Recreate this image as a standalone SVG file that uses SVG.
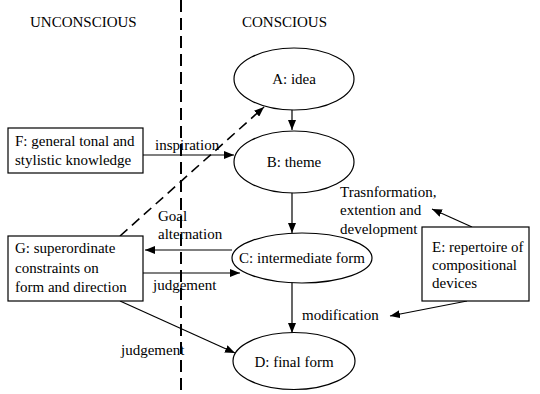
<svg xmlns="http://www.w3.org/2000/svg" width="540" height="394" viewBox="0 0 540 394" font-family="'Liberation Serif', 'DejaVu Serif', serif" font-size="15">
  <defs>
    <marker id="arrow" viewBox="0 0 10 8" refX="10" refY="4" markerWidth="10" markerHeight="8" markerUnits="userSpaceOnUse" orient="auto">
      <path d="M0,0 L10,4 L0,8 Z" fill="#000"/>
    </marker>
  </defs>
  <style>
    .mid { text-anchor: middle; }
    .shape { fill: #fff; stroke: #000; stroke-width: 1.2; }
    .edge { fill: none; stroke: #000; stroke-width: 1.2; marker-end: url(#arrow); }
    .dashed { stroke-dasharray: 10 6; stroke-width: 1.6; }
    .divider { stroke: #000; stroke-width: 2; stroke-dasharray: 12 6; }
  </style>
  <rect width="540" height="394" fill="#fff"/>

  <!-- boundary between the two zones -->
  <line class="divider" x1="181" y1="0" x2="181" y2="394"/>
  <text x="30" y="27">UNCONSCIOUS</text>
  <text x="242" y="27">CONSCIOUS</text>

  <g id="connectors">
    <line class="edge" x1="292" y1="110" x2="292" y2="130"/>
    <line class="edge" x1="292" y1="193" x2="292" y2="233"/>
    <line class="edge" x1="292" y1="282" x2="292" y2="333"/>
    <line class="edge" x1="143" y1="155" x2="234" y2="155"/>
    <line class="edge dashed" x1="120" y1="236" x2="264" y2="107"/>
    <line class="edge" x1="232" y1="250" x2="145" y2="250"/>
    <line class="edge" x1="143" y1="273" x2="240" y2="273"/>
    <line class="edge" x1="120" y1="301" x2="235" y2="353"/>
    <line class="edge" x1="472" y1="227" x2="432" y2="209"/>
    <line class="edge" x1="467" y1="301" x2="390" y2="316"/>
    <text x="155" y="150">inspiration</text>
    <text x="158" y="221">Goal</text>
    <text x="158" y="239">alternation</text>
    <text x="153" y="290">judgement</text>
    <text x="121" y="355">judgement</text>
    <text x="340" y="197">Trasnformation,</text>
    <text x="340" y="215">extention and</text>
    <text x="340" y="234">development</text>
    <text x="302" y="320">modification</text>
  </g>

  <g id="node-a">
    <ellipse class="shape" cx="294" cy="79" rx="60" ry="31"/>
    <text class="mid" x="294" y="84">A: idea</text>
  </g>
  <g id="node-b">
    <ellipse class="shape" cx="294" cy="162" rx="60" ry="31"/>
    <text class="mid" x="294" y="167">B: theme</text>
  </g>
  <g id="node-c">
    <ellipse class="shape" cx="302" cy="258" rx="70" ry="25"/>
    <text class="mid" x="302" y="263">C: intermediate form</text>
  </g>
  <g id="node-d">
    <ellipse class="shape" cx="294" cy="361" rx="61" ry="28.5"/>
    <text class="mid" x="294" y="367">D: final form</text>
  </g>
  <g id="node-f">
    <rect class="shape" x="8" y="128" width="135" height="45"/>
    <text x="15" y="146">F: general tonal and</text>
    <text x="15" y="165">stylistic knowledge</text>
  </g>
  <g id="node-g">
    <rect class="shape" x="8" y="236" width="135" height="65"/>
    <text x="15" y="253">G: superordinate</text>
    <text x="15" y="273">constraints on</text>
    <text x="15" y="292">form and direction</text>
  </g>
  <g id="node-e">
    <rect class="shape" x="422" y="227" width="107" height="74"/>
    <text x="432" y="252">E: repertoire of</text>
    <text x="432" y="270">compositional</text>
    <text x="432" y="288">devices</text>
  </g>
</svg>
